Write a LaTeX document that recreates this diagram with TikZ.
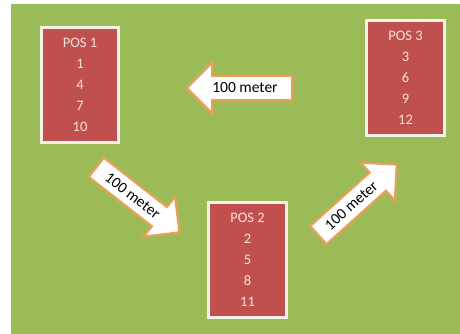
\documentclass[tikz,border=0pt]{standalone}
\usepackage{fontspec}
\setmainfont{Carlito}
\usetikzlibrary{shadows}
\definecolor{bggreen}{HTML}{9BBB59}
\definecolor{boxred}{HTML}{C0504D}
\definecolor{boxedge}{HTML}{F4F2E6}
\definecolor{boxtext}{HTML}{F6E2E0}
\definecolor{arrowedge}{HTML}{EBA05A}
\tikzset{
  posbox/.style={fill=boxred, draw=boxedge, line width=3pt,
    drop shadow={opacity=0.35, shadow xshift=1.5pt, shadow yshift=-1.5pt, fill=black!70},
    text=boxtext, font=\fontsize{14.5}{21}\selectfont, align=center},
  arrowglow/.style={draw=arrowedge, line width=4.5pt, opacity=0.35, line join=miter},
  bigarrow/.style={fill=white, draw=arrowedge, line width=1.8pt, line join=miter},
  arrowlabel/.style={font=\fontsize{15.5}{17}\selectfont, text=black, inner sep=0pt}
}
\newcommand{\arrowshape}{(0,-12) -- (80,-12) -- (80,-25) -- (105,0) -- (80,25) -- (80,12) -- (0,12) -- cycle}
\begin{document}
\begin{tikzpicture}[x=1pt,y=-1pt]
\useasboundingbox (0,0) rectangle (460,334);
\fill[white] (0,0) rectangle (460,334);
\fill[bggreen] (11,4) rectangle (460,334);

% position boxes
\node[posbox, minimum width=77pt, minimum height=114pt] (pos1) at (80,85) {POS 1\\1\\4\\7\\10};
\node[posbox, minimum width=78pt, minimum height=115pt] (pos3) at (405.5,78) {POS 3\\3\\6\\9\\12};
\node[posbox, minimum width=78pt, minimum height=115pt] (pos2) at (247.5,260) {POS 2\\2\\5\\8\\11};

% left arrow (POS 3 -> POS 1)
\begin{scope}[shift={(292,88)}, rotate=180]
  \draw[arrowglow] \arrowshape;
  \draw[bigarrow] \arrowshape;
\end{scope}
\node[arrowlabel] (lbl1) at (245,88) {100 meter};

% down-right arrow (POS 1 -> POS 2)
\begin{scope}[shift={(96.5,167.5)}, rotate=-38]
  \draw[arrowglow] \arrowshape;
  \draw[bigarrow] \arrowshape;
  \node[arrowlabel, transform shape] (lbl2) at (46,0) {100 meter};
\end{scope}

% up-right arrow (POS 2 -> POS 3)
\begin{scope}[shift={(318.5,235)}, rotate=42]
  \draw[arrowglow] \arrowshape;
  \draw[bigarrow] \arrowshape;
  \node[arrowlabel, transform shape] (lbl3) at (44,0) {100 meter};
\end{scope}
\end{tikzpicture}
\end{document}
